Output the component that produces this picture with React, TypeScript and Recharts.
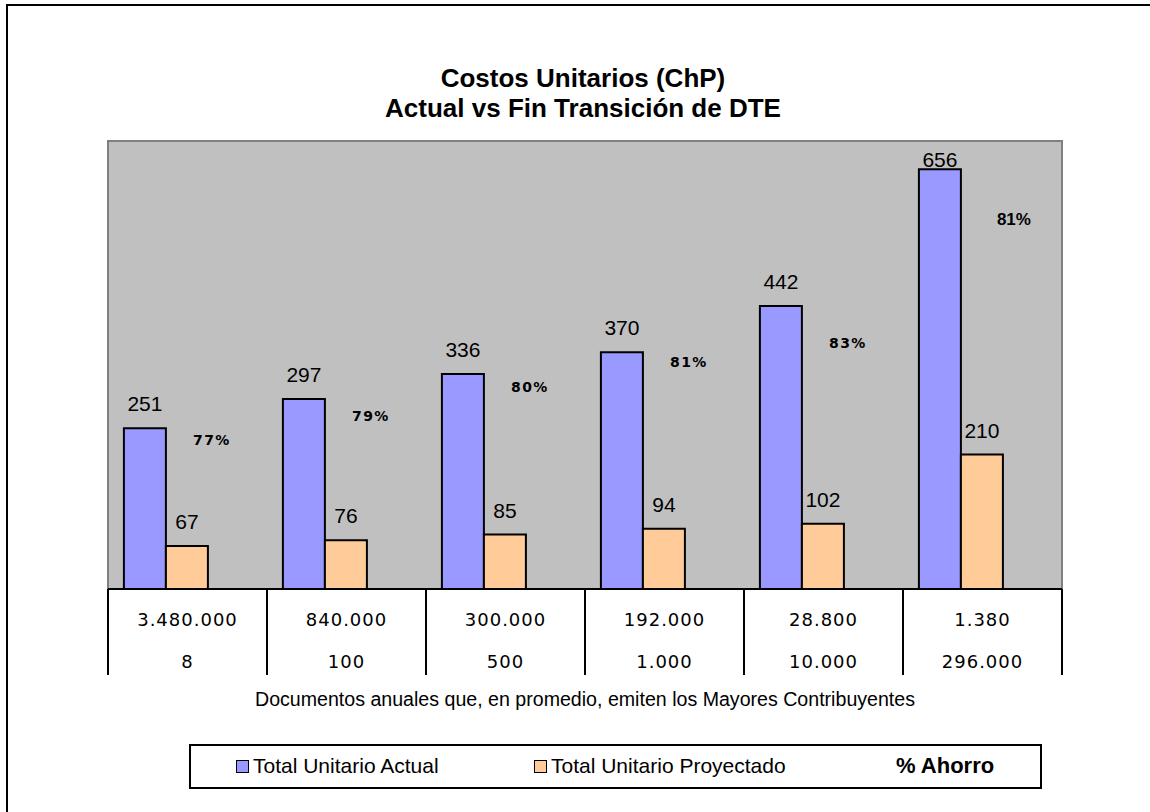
import React from "react";
import { Bar, BarChart, Label, LabelList, Legend, ReferenceArea, XAxis, YAxis } from "recharts";

const documents = ["3.480.000", "840.000", "300.000", "192.000", "28.800", "1.380"];
const taxpayers = ["8", "100", "500", "1.000", "10.000", "296.000"];
const actualCost = [251, 297, 336, 370, 442, 656];
const projectedCost = [67, 76, 85, 94, 102, 210];
const savingsPct = ["77%", "79%", "80%", "81%", "83%", "81%"];
// where the % labels sit in axis units
const savingsLabelPos = [233, 271, 315, 354, 384, 578];

const data = documents.map((d, i) => ({
  docs: d,
  taxpayers: taxpayers[i],
  actual: actualCost[i],
  projected: projectedCost[i],
  savingsPos: savingsLabelPos[i],
  savings: savingsPct[i],
}));

const PLOT_TOP = 141;
const ARIAL = "'Liberation Sans', Arial, sans-serif";
const VERDANA = "'DejaVu Sans', Verdana, sans-serif";

function DocTick(props: any) {
  const { x, y, payload, index } = props;
  const half = payload?.offset || 79.5;
  const row = data[index];
  return (
    <g>
      <line x1={x - half} x2={x - half} y1={y} y2={y + 86} stroke="#000" strokeWidth={2} />
      {index === data.length - 1 && (
        <line x1={x + half} x2={x + half} y1={y} y2={y + 86} stroke="#000" strokeWidth={2} />
      )}
      <text x={x} y={y + 37} textAnchor="middle" fontFamily={VERDANA} fontSize={18} letterSpacing={1} fill="#000">
        {row.docs}
      </text>
      <text x={x} y={y + 79} textAnchor="middle" fontFamily={VERDANA} fontSize={18} letterSpacing={1} fill="#000">
        {row.taxpayers}
      </text>
    </g>
  );
}

function ValueLabel(props: any) {
  const { x, y, width, value } = props;
  const base = Math.max(y - 17, PLOT_TOP + 26);
  return (
    <text x={x + width / 2} y={base} textAnchor="middle" fontFamily={ARIAL} fontSize={21} fill="#000">
      {value}
    </text>
  );
}

function SavingsLabel(props: any) {
  const { x, y, width, index } = props;
  const last = index === data.length - 1;
  return (
    <text
      x={x + width / 2 - (last ? 10 : 17)}
      y={y}
      dominantBaseline="central"
      textAnchor="middle"
      fontFamily={last ? ARIAL : VERDANA}
      fontSize={last ? 17 : 14}
      fontWeight="bold"
      letterSpacing={last ? 0 : 1.5}
      fill="#000"
    >
      {data[index].savings}
    </text>
  );
}

function LegendBox() {
  const swatch = (color: string) => (
    <span
      style={{
        display: "inline-block",
        width: 11,
        height: 11,
        background: color,
        border: "1.5px solid #000",
        marginRight: 4,
      }}
    />
  );
  return (
    <div
      style={{
        position: "relative",
        width: 849,
        height: 41,
        border: "2px solid #000",
        background: "#fff",
        fontFamily: ARIAL,
        fontSize: 21,
        color: "#000",
      }}
    >
      <div style={{ position: "absolute", left: 45, top: 8, display: "flex", alignItems: "center" }}>
        {swatch("#9999FF")}Total Unitario Actual
      </div>
      <div style={{ position: "absolute", left: 343, top: 8, display: "flex", alignItems: "center" }}>
        {swatch("#FFCC99")}Total Unitario Proyectado
      </div>
      <div style={{ position: "absolute", left: 705, top: 7, fontWeight: "bold", fontSize: 22 }}>% Ahorro</div>
    </div>
  );
}

export default function App(): React.JSX.Element {
  return (
    <div style={{ position: "absolute", left: 0, top: 0, width: 1150, height: 812, background: "#fff" }}>
      <div
        style={{
          position: "absolute",
          left: 6,
          top: 4,
          width: 1144,
          height: 808,
          borderTop: "2px solid #000",
          borderLeft: "2px solid #000",
        }}
      />
      <div
        style={{
          position: "absolute",
          left: 0,
          top: 63,
          width: 1166,
          textAlign: "center",
          fontFamily: ARIAL,
          fontWeight: "bold",
          fontSize: 26,
          lineHeight: "30px",
          color: "#000",
        }}
      >
        Costos Unitarios (ChP)
        <br />
        Actual vs Fin Transición de DTE
      </div>
      <div style={{ position: "absolute", left: 0, top: 0 }}>
        <BarChart
          width={1150}
          height={812}
          data={data}
          margin={{ top: PLOT_TOP, right: 88, left: 108, bottom: 137 }}
          barCategoryGap="10%"
          barGap={0}
        >
          <YAxis hide domain={[0, 700]} />
          <ReferenceArea y1={0} y2={700} fill="#C0C0C0" fillOpacity={1} stroke="#808080" strokeWidth={2} />
          <XAxis
            dataKey="docs"
            height={86}
            interval={0}
            tickLine={false}
            tickSize={0}
            tickMargin={0}
            axisLine={{ stroke: "#000", strokeWidth: 2 }}
            tick={<DocTick />}
          >
            <Label
              value="Documentos anuales que, en promedio, emiten los Mayores Contribuyentes"
              position="bottom"
              offset={17}
              fontFamily={ARIAL}
              fontSize={19.6}
              fill="#000"
            />
          </XAxis>
          <Legend
            layout="horizontal"
            verticalAlign="middle"
            align="center"
            content={() => <LegendBox />}
            wrapperStyle={{ left: 189, top: 744, width: 853, height: 45 }}
          />
          <Bar dataKey="actual" fill="#9999FF" stroke="#000" strokeWidth={2} isAnimationActive={false}>
            <LabelList dataKey="actual" content={<ValueLabel />} />
          </Bar>
          <Bar dataKey="projected" fill="#FFCC99" stroke="#000" strokeWidth={2} isAnimationActive={false}>
            <LabelList dataKey="projected" content={<ValueLabel />} />
          </Bar>
          <Bar dataKey="savingsPos" fill="transparent" stroke="none" isAnimationActive={false}>
            <LabelList dataKey="savings" content={<SavingsLabel />} />
          </Bar>
        </BarChart>
      </div>
    </div>
  );
}
